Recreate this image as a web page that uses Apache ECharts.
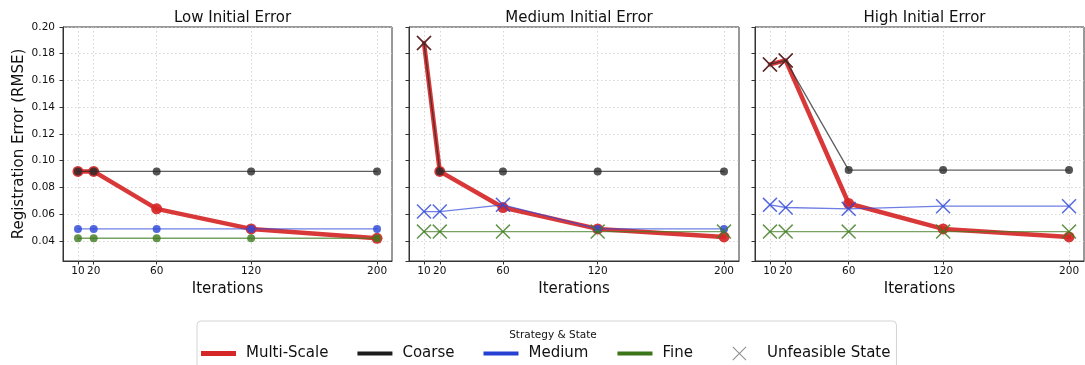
<!DOCTYPE html>
<html>
<head>
<meta charset="utf-8">
<script src="https://cdn.jsdelivr.net/npm/echarts@6/dist/echarts.min.js"></script>
<style>
  html, body { margin: 0; padding: 0; background: #fff; }
  #chart { width: 1085px; height: 365px; }
</style>
</head>
<body>
<div id="chart"></div>
<script>
// ---- data ----
const iterations = [10, 20, 60, 120, 200];
const panelTitles = ['Low Initial Error', 'Medium Initial Error', 'High Initial Error'];
const strategies = ['Multi-Scale', 'Coarse', 'Medium', 'Fine'];

const multiLow  = [0.092, 0.092, 0.064, 0.049, 0.042];
const multiMed  = [0.188, 0.092, 0.065, 0.049, 0.043];
const multiHigh = [0.172, 0.175, 0.068, 0.049, 0.043];

const coarseLow  = [0.092, 0.092, 0.092, 0.092, 0.092];
const coarseMed  = [0.188, 0.092, 0.092, 0.092, 0.092];
const coarseHigh = [0.172, 0.175, 0.093, 0.093, 0.093];

const mediumLow  = [0.049, 0.049, 0.049, 0.049, 0.049];
const mediumMed  = [0.062, 0.062, 0.067, 0.049, 0.049];
const mediumHigh = [0.067, 0.065, 0.064, 0.066, 0.066];

const fineLow  = [0.042, 0.042, 0.042, 0.042, 0.042];
const fineMed  = [0.047, 0.047, 0.047, 0.047, 0.047];
const fineHigh = [0.047, 0.047, 0.047, 0.047, 0.047];

// 1 = feasible (circle), 0 = unfeasible (X)
const multiFeasLow  = [1, 1, 1, 1, 1];
const multiFeasMed  = [0, 1, 1, 1, 1];
const multiFeasHigh = [0, 0, 1, 1, 1];
const coarseFeasLow  = [1, 1, 1, 1, 1];
const coarseFeasMed  = [0, 1, 1, 1, 1];
const coarseFeasHigh = [0, 0, 1, 1, 1];
const mediumFeasLow  = [1, 1, 1, 1, 1];
const mediumFeasMed  = [0, 0, 0, 1, 1];
const mediumFeasHigh = [0, 0, 0, 0, 0];
const fineFeasLow  = [1, 1, 1, 1, 1];
const fineFeasMed  = [0, 0, 0, 0, 0];
const fineFeasHigh = [0, 0, 0, 0, 0];

const values = {
  'Multi-Scale': [multiLow, multiMed, multiHigh],
  'Coarse': [coarseLow, coarseMed, coarseHigh],
  'Medium': [mediumLow, mediumMed, mediumHigh],
  'Fine': [fineLow, fineMed, fineHigh]
};
const feas = {
  'Multi-Scale': [multiFeasLow, multiFeasMed, multiFeasHigh],
  'Coarse': [coarseFeasLow, coarseFeasMed, coarseFeasHigh],
  'Medium': [mediumFeasLow, mediumFeasMed, mediumFeasHigh],
  'Fine': [fineFeasLow, fineFeasMed, fineFeasHigh]
};

// ---- styles ----
function xShape(ox, oy, s, w) {
  const p = (a, b) => (ox + a * s / 10).toFixed(3) + ',' + (oy + b * s / 10).toFixed(3);
  return 'M' + p(0, w) + 'L' + p(w, 0) + 'L' + p(5, 5 - w) + 'L' + p(10 - w, 0) + 'L' + p(10, w) +
    'L' + p(5 + w, 5) + 'L' + p(10, 10 - w) + 'L' + p(10 - w, 10) + 'L' + p(5, 5 + w) + 'L' + p(w, 10) +
    'L' + p(0, 10 - w) + 'L' + p(5 - w, 5) + 'Z';
}
const xPath = 'path://' + xShape(0, 0, 10, 0.7);
// legend X: centred in a 35 x 14 box (tiny corner anchors keep the box size)
const xLegendPath = 'path://M0,0L0.01,0L0,0.01ZM35,14L34.99,14L35,13.99Z' + xShape(10.5, 0, 14, 0.55);

const styles = {
  'Multi-Scale': { color: '#d62728', width: 4.5, lineOp: 0.92, markOp: 0.92, circle: 11, x: 15, z: 2 },
  'Coarse':      { color: '#2a2a2a', width: 1.3, lineOp: 0.75, markOp: 0.8, circle: 8, x: 15, z: 3 },
  'Medium':      { color: '#3048d8', width: 1.3, lineOp: 0.7, markOp: 0.82, circle: 8, x: 15, z: 4 },
  'Fine':        { color: '#3f7a1f', width: 1.3, lineOp: 0.7, markOp: 0.8, circle: 8, x: 15, z: 5 }
};

const grids = [
  { left: 63, top: 27, width: 329, height: 234 },
  { left: 409, top: 27, width: 330, height: 234 },
  { left: 755, top: 27, width: 329, height: 234 }
];

const textColor = '#111';
const font = 'DejaVu Sans';

const xAxes = grids.map((g, i) => ({
  type: 'value', gridIndex: i, min: 0.5, max: 209.5,
  name: 'Iterations', nameLocation: 'middle', nameGap: 20,
  nameTextStyle: { fontSize: 15, color: textColor, fontFamily: font },
  axisLine: { show: true, lineStyle: { color: '#333', width: 1 } },
  axisTick: { show: true, length: 3.5, customValues: iterations, lineStyle: { color: '#333' } },
  axisLabel: { customValues: iterations, fontSize: 10.5, color: textColor, fontFamily: font, margin: 5 },
  splitLine: { show: true, lineStyle: { color: '#cccccc', width: 0.8, type: [1.5, 2.5] } }
}));

const yAxes = grids.map((g, i) => ({
  type: 'value', gridIndex: i, min: 0.025, max: 0.2, splitNumber: 8,
  minInterval: 0.02, maxInterval: 0.02,
  name: i === 0 ? 'Registration Error (RMSE)' : '', nameLocation: 'middle', nameGap: 36,
  nameTextStyle: { fontSize: 15, color: textColor, fontFamily: font },
  axisLine: { show: true, lineStyle: { color: '#333', width: 1 } },
  axisTick: { show: true, length: 3.5, lineStyle: { color: '#333' } },
  axisLabel: {
    show: i === 0, showMinLabel: false, fontSize: 10.5, color: textColor, fontFamily: font, margin: 8,
    formatter: v => v.toFixed(2)
  },
  splitLine: { show: true, lineStyle: { color: '#cccccc', width: 0.8, type: [1.5, 2.5] } }
}));

const series = [];
strategies.forEach(name => {
  const st = styles[name];
  for (let p = 0; p < 3; p++) {
    const ys = values[name][p];
    const fs = feas[name][p];
    series.push({
      name: name, type: 'line', xAxisIndex: p, yAxisIndex: p, z: st.z,
      animation: false, emphasis: { disabled: true },
      lineStyle: { color: st.color, width: st.width, opacity: st.lineOp, cap: 'round', join: 'round' },
      itemStyle: { color: st.color, opacity: st.markOp },
      data: iterations.map((x, k) => ({
        value: [x, ys[k]],
        symbol: fs[k] ? 'circle' : xPath,
        symbolSize: fs[k] ? st.circle : st.x
      }))
    });
  }
});
series.push({
  name: 'Unfeasible State', type: 'line', xAxisIndex: 0, yAxisIndex: 0, data: [],
  itemStyle: { color: '#8f8f8f' }, lineStyle: { color: '#8f8f8f' }
});

const titles = grids.map((g, i) => ({
  text: panelTitles[i], left: g.left + g.width / 2, top: 6, textAlign: 'center',
  textStyle: { fontSize: 15, fontWeight: 'normal', color: textColor, fontFamily: font }
}));
titles.push({
  text: 'Strategy & State', left: 548, top: 325, textAlign: 'center',
  textStyle: { fontSize: 10.5, fontWeight: 'normal', color: textColor, fontFamily: font }
});

const lineIcon = h => 'path://M0,0H35V' + h + 'H0Z';

const option = {
  backgroundColor: '#fff',
  animation: false,
  title: titles,
  grid: grids.map(g => Object.assign({ show: true, borderColor: '#333', borderWidth: 1 }, g)),
  xAxis: xAxes,
  yAxis: yAxes,
  legend: {
    left: 197, top: 321, orient: 'horizontal',
    padding: [25, 6, 30, 4],
    itemWidth: 35, itemHeight: 14, itemGap: 29,
    borderColor: '#d4d4d4', borderWidth: 1, borderRadius: 4, backgroundColor: '#fff',
    selectedMode: false,
    textStyle: { fontSize: 15, color: textColor, fontFamily: font, padding: [0, 0, 0, 5] },
    data: [
      { name: 'Multi-Scale', icon: lineIcon(5), itemStyle: { color: '#d62728', opacity: 1 } },
      { name: 'Coarse', icon: lineIcon(4), itemStyle: { color: '#1c1c1c', opacity: 1 } },
      { name: 'Medium', icon: lineIcon(4), itemStyle: { color: '#2540d2', opacity: 1 } },
      { name: 'Fine', icon: lineIcon(4), itemStyle: { color: '#3a7518', opacity: 1 } },
      { name: 'Unfeasible State', icon: xLegendPath, itemStyle: { color: '#8f8f8f', opacity: 1 } }
    ]
  },
  series: series
};

const chart = echarts.init(document.getElementById('chart'), null, { renderer: 'canvas' });
chart.setOption(option);
</script>
</body>
</html>
